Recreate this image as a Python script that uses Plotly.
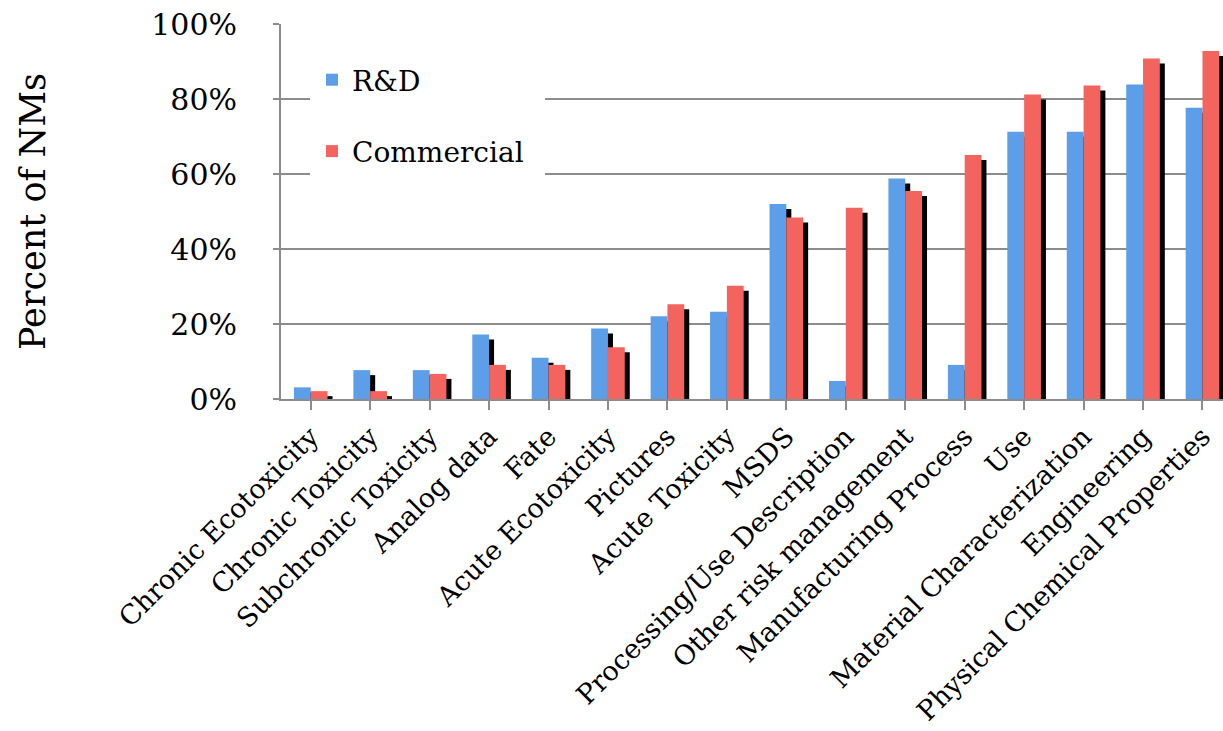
import plotly.graph_objects as go

categories = [
    "Chronic Ecotoxicity", "Chronic Toxicity", "Subchronic Toxicity", "Analog data",
    "Fate", "Acute Ecotoxicity", "Pictures", "Acute Toxicity", "MSDS",
    "Processing/Use Description", "Other risk management", "Manufacturing Process",
    "Use", "Material Characterization", "Engineering", "Physical Chemical Properties",
]
rd_values = [3.1, 7.7, 7.7, 17.2, 11.0, 18.8, 22.1, 23.3, 52.0, 4.8, 58.8, 9.1, 71.3, 71.3, 83.9, 77.7]
commercial_values = [2.1, 2.1, 6.7, 9.1, 9.1, 13.8, 25.3, 30.2, 48.4, 51.0, 55.5, 65.1, 81.2, 83.6, 90.8, 92.8]
y_ticks = [0, 20, 40, 60, 80, 100]
y_tick_labels = ["0%", "20%", "40%", "60%", "80%", "100%"]

SERIF = "DejaVu Serif"
BLUE = "#5c9ee8"
RED = "#f4645f"
GRID = "#8c8c8c"
TXT = "#000000"

# layout geometry (pixels)
W, H = 1223, 731
left, top, bottom = 281, 24, 332
cat_px = 59.45
plot_w = W - left
plot_h = H - top - bottom
x_end = -0.5 + plot_w / cat_px

bw = 16.8 / cat_px          # bar width in category units
sh_dx = 5.0 / cat_px        # shadow shift right
sh_dy = 5.0 / 3.75          # shadow shift down (in %)

xs = list(range(len(categories)))

fig = go.Figure()
# drop shadows behind the bars
for vals, off in [(rd_values, -bw), (commercial_values, 0.0)]:
    fig.add_trace(go.Bar(
        x=xs, y=[max(v - sh_dy, 0) for v in vals], width=bw, offset=off + sh_dx,
        marker=dict(color="#000000", line=dict(width=0)), showlegend=False, hoverinfo="skip",
    ))
fig.add_trace(go.Bar(
    x=xs, y=rd_values, width=bw, offset=-bw, name="R&D", legendgroup="a",
    marker=dict(color=BLUE, line=dict(width=0)),
))
fig.add_trace(go.Bar(
    x=xs, y=commercial_values, width=bw, offset=0.0, name="Commercial", legendgroup="b",
    marker=dict(color=RED, line=dict(width=0)),
))

# white backdrop of the legend box (hides gridlines behind the legend)
def px_x(p):
    return (p - left) / plot_w

def px_y(p):
    return (H - bottom - p) / plot_h

fig.add_shape(type="rect", xref="paper", yref="paper",
              x0=px_x(310), x1=px_x(545), y0=px_y(177), y1=px_y(45),
              fillcolor="white", line=dict(width=0), layer="above")

fig.update_layout(
    width=W, height=H,
    margin=dict(l=left, r=0, t=top, b=bottom, autoexpand=False),
    barmode="overlay",
    paper_bgcolor="white", plot_bgcolor="white",
    font=dict(family=SERIF, color=TXT),
    legend=dict(
        x=px_x(312), y=px_y(55), xanchor="left", yanchor="top",
        bgcolor="white", font=dict(size=28, family=SERIF, color=TXT),
        traceorder="grouped", tracegroupgap=32, itemwidth=30,
    ),
    xaxis=dict(
        range=[-0.5, x_end], tickmode="array", tickvals=xs, ticktext=categories,
        tickangle=-45, tickfont=dict(size=27, family=SERIF, color=TXT),
        showline=True, linecolor=GRID, linewidth=2,
        ticks="outside", tickson="boundaries", ticklen=9, tickwidth=2, tickcolor=GRID,
        showgrid=False, zeroline=False, automargin=False,
    ),
    yaxis=dict(
        range=[0, 100], tickmode="array", tickvals=y_ticks, ticktext=y_tick_labels,
        tickfont=dict(size=30, family=SERIF, color=TXT),
        showline=True, linecolor=GRID, linewidth=2,
        ticks="outside", ticklen=6, tickwidth=2, tickcolor=GRID, ticklabelstandoff=30,
        showgrid=True, gridcolor=GRID, gridwidth=2, zeroline=False,
        title=dict(text="Percent of NMs", font=dict(size=35, family=SERIF, color=TXT), standoff=95),
        automargin=False,
    ),
)

fig.write_html("out.html")
